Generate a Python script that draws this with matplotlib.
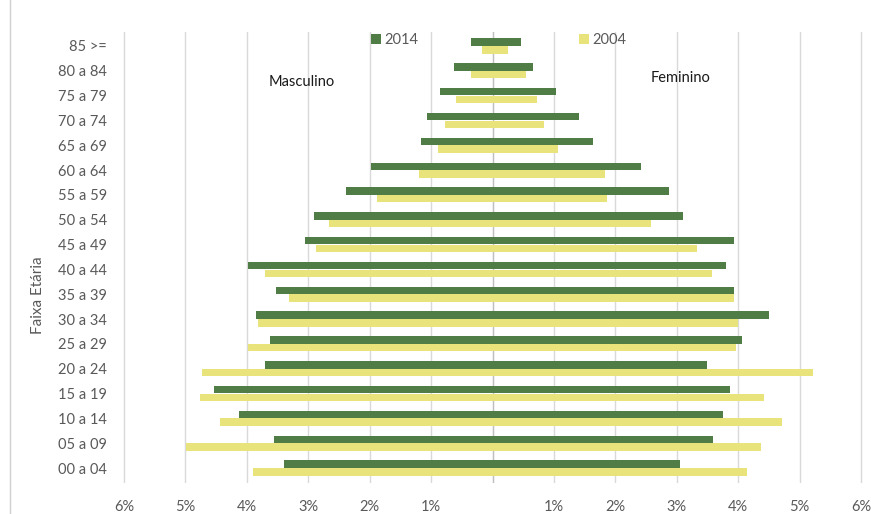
import numpy as np
import matplotlib
matplotlib.use('Agg')
import matplotlib.pyplot as plt
from matplotlib.lines import Line2D

##########################
# Data (percent of population)
##########################
faixas = ['00 a 04', '05 a 09', '10 a 14', '15 a 19', '20 a 24', '25 a 29',
          '30 a 34', '35 a 39', '40 a 44', '45 a 49', '50 a 54', '55 a 59',
          '60 a 64', '65 a 69', '70 a 74', '75 a 79', '80 a 84', '85 >=']

masc_2014 = [3.39, 3.55, 4.13, 4.54, 3.71, 3.63, 3.85, 3.52, 3.98, 3.05,
             2.91, 2.38, 1.98, 1.17, 1.07, 0.86, 0.62, 0.35]
masc_2004 = [3.90, 4.99, 4.43, 4.76, 4.73, 3.98, 3.82, 3.31, 3.71, 2.88,
             2.67, 1.88, 1.20, 0.88, 0.78, 0.59, 0.35, 0.17]
fem_2014 = [3.06, 3.59, 3.76, 3.87, 3.49, 4.07, 4.50, 3.94, 3.81, 3.94,
            3.11, 2.87, 2.42, 1.64, 1.41, 1.03, 0.66, 0.47]
fem_2004 = [4.15, 4.37, 4.72, 4.42, 5.22, 3.96, 4.00, 3.94, 3.57, 3.33,
            2.58, 1.86, 1.84, 1.06, 0.84, 0.73, 0.55, 0.26]

xticks = [-6, -5, -4, -3, -2, -1, 0, 1, 2, 3, 4, 5, 6]
xticklabels = ['6%', '5%', '4%', '3%', '2%', '1%', '', '1%', '2%', '3%', '4%', '5%', '6%']

###############
# Style
###############
verde = '#507c45'
amarelo = '#e8e47b'
cinza = '#595959'
plt.rcParams['font.family'] = ['Lato', 'DejaVu Sans']

W, H = 871, 514
fig = plt.figure(figsize=(W/100., H/100.), dpi=100)
# plot area in pixels
xl, xr = 117.9, 867.1
yt, yb = 32.3, 482.9
ax = fig.add_axes([xl/W, 1-yb/H, (xr-xl)/W, (yb-yt)/H])

y = np.arange(len(faixas))
h = 0.30
ax.barh(y+0.155, [-v for v in masc_2014], height=h, color=verde, label='2014', zorder=3)
ax.barh(y-0.155, [-v for v in masc_2004], height=h, color=amarelo, label='2004', zorder=3)
ax.barh(y+0.155, fem_2014, height=h, color=verde, zorder=3)
ax.barh(y-0.155, fem_2004, height=h, color=amarelo, zorder=3)

ax.set_xlim(-6.1, 6.1)
ax.set_ylim(-0.6, 17.55)
ax.set_xticks(xticks)
ax.set_xticklabels(xticklabels, color=cinza, fontsize=10.5)
ax.set_yticks(y)
ax.set_yticklabels(faixas, color=cinza, fontsize=10.5)
ax.tick_params(axis='both', length=0)
ax.tick_params(axis='x', pad=12)
ax.tick_params(axis='y', pad=8)
ax.grid(axis='x', color='#d9d9d9', lw=1.0, zorder=0)
ax.axvline(0, color='#bfbfbf', lw=0.9, zorder=2)
for s in ax.spines.values():
    s.set_visible(False)

ax.set_ylabel('Faixa Etária', color=cinza, fontsize=11)
ax.yaxis.set_label_coords((45-xl)/(xr-xl), 1-(295-yt)/(yb-yt))

ax.text(-3.10, 15.54, 'Masculino', ha='center', va='center', fontsize=10.5, color='#1a1a1a')
ax.text(3.07, 15.70, 'Feminino', ha='center', va='center', fontsize=10.5, color='#1a1a1a')

lg = ax.legend(ncol=2, loc='center', bbox_to_anchor=(498.5/W, 1-40./H),
               bbox_transform=fig.transFigure, frameon=False, fontsize=10.5,
               handlelength=0.7, handleheight=0.7, handletextpad=0.2,
               columnspacing=11.0, borderpad=0)
for t in lg.get_texts():
    t.set_color(cinza)

# page border on the left
fig.add_artist(Line2D([10/W, 10/W], [0, 1], color='#d0d0d0', lw=1.0))

fig.savefig('out.png', dpi=100)
